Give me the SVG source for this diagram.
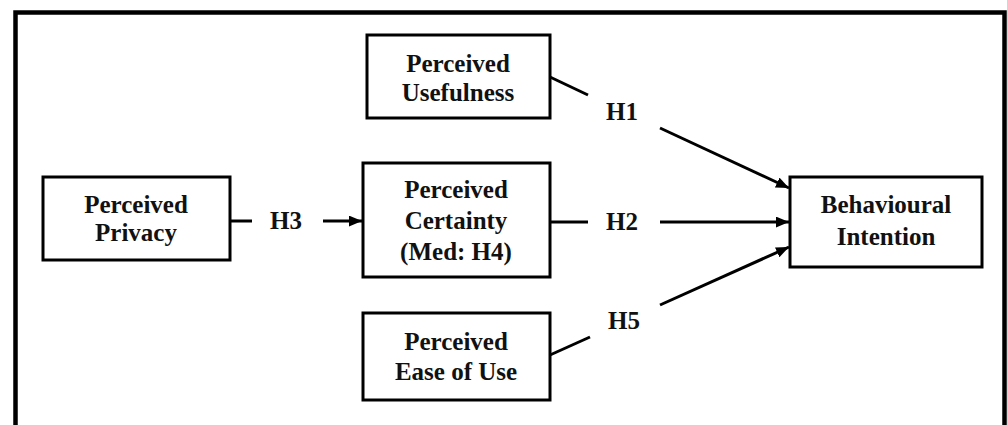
<svg xmlns="http://www.w3.org/2000/svg" width="1007" height="425" viewBox="0 0 1007 425">
<style>
.box{fill:#fff;stroke:#000;stroke-width:3}
.t{font-family:"Liberation Serif","Times New Roman",serif;font-weight:bold;font-size:25px;fill:#111;text-anchor:middle}
.c{stroke:#000;stroke-width:3;fill:none}
</style>
<defs>
<marker id="arr" viewBox="0 0 12 10" refX="12" refY="5" markerWidth="13" markerHeight="11" markerUnits="userSpaceOnUse" orient="auto">
<path d="M0,0 L12,5 L0,10 z" fill="#000"/>
</marker>
</defs>
<rect width="1007" height="425" fill="#fff"/>
<rect x="15.5" y="12.5" width="989" height="500" fill="none" stroke="#000" stroke-width="4.5"/>
<g id="connectors">
<line class="c" x1="230" y1="221" x2="252" y2="221"/>
<line class="c" x1="323" y1="221" x2="362" y2="221" marker-end="url(#arr)"/>
<line class="c" x1="550" y1="222" x2="588" y2="222"/>
<line class="c" x1="660" y1="222" x2="789" y2="222" marker-end="url(#arr)"/>
<line class="c" x1="550" y1="77" x2="588" y2="95"/>
<line class="c" x1="660" y1="128" x2="789" y2="188" marker-end="url(#arr)"/>
<line class="c" x1="550" y1="355" x2="590" y2="337"/>
<line class="c" x1="660" y1="305" x2="789" y2="247" marker-end="url(#arr)"/>
<text class="t" x="286" y="229">H3</text>
<text class="t" x="622" y="230">H2</text>
<text class="t" x="622" y="120">H1</text>
<text class="t" x="624" y="329">H5</text>
</g>
<g id="privacy">
<rect class="box" x="43" y="177" width="187" height="83"/>
<text class="t" x="136" y="213">Perceived</text>
<text class="t" x="136" y="241">Privacy</text>
</g>
<g id="usefulness">
<rect class="box" x="367" y="35" width="183" height="83"/>
<text class="t" x="458" y="72">Perceived</text>
<text class="t" x="458" y="101">Usefulness</text>
</g>
<g id="certainty">
<rect class="box" x="363" y="163" width="187" height="114"/>
<text class="t" x="456" y="198">Perceived</text>
<text class="t" x="456" y="229">Certainty</text>
<text class="t" x="456" y="260">(Med: H4)</text>
</g>
<g id="ease">
<rect class="box" x="363" y="313" width="187" height="87"/>
<text class="t" x="456" y="350">Perceived</text>
<text class="t" x="456" y="380">Ease of Use</text>
</g>
<g id="intention">
<rect class="box" x="790" y="177" width="192" height="90"/>
<text class="t" x="886" y="213">Behavioural</text>
<text class="t" x="886" y="245">Intention</text>
</g>
</svg>
